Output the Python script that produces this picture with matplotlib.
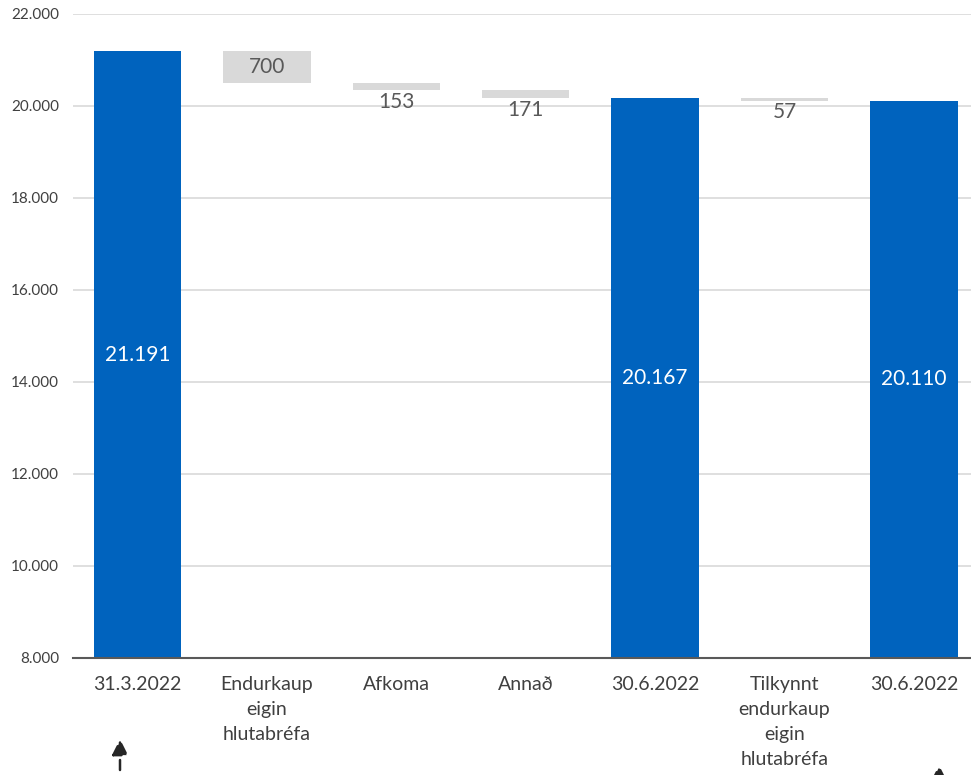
import numpy as np
import matplotlib
matplotlib.use("Agg")
import matplotlib.pyplot as plt
from matplotlib.ticker import FuncFormatter

# Data
categories = ["31.3.2022", "Endurkaup\neigin\nhlutabréfa", "Afkoma", "Annað",
              "30.6.2022", "Tilkynnt\nendurkaup\neigin\nhlutabréfa", "30.6.2022"]
values = [21191, -700, -153, -171, 20167, -57, 20110]
kinds = ["total", "delta", "delta", "delta", "total", "delta", "total"]

BLUE = "#0063BE"
GREY = "#D9D9D9"
TEXT = "#404040"
BASE = 8000

plt.rcParams["font.family"] = ["Lato", "DejaVu Sans"]


def fmt(v):
    return f"{int(abs(v)):,}".replace(",", ".")


# waterfall bottoms / heights
bottoms, heights, colors = [], [], []
running = 0
for v, k in zip(values, kinds):
    if k == "total":
        bottoms.append(BASE)
        heights.append(v - BASE)
        colors.append(BLUE)
        running = v
    else:
        new = running + v
        bottoms.append(min(running, new))
        heights.append(abs(v))
        colors.append(GREY)
        running = new

fig = plt.figure(figsize=(9.71, 7.75), dpi=100)
# axes runs a little past the right edge, like the cropped original
ax = fig.add_axes([0.075, 0.151, 0.9328, 0.831])

x = np.arange(len(categories))
ax.bar(x, heights, bottom=bottoms, width=0.675, color=colors, zorder=2)

for xi, b, h, v, k in zip(x, bottoms, heights, values, kinds):
    if k == "total":
        ax.text(xi, b + h / 2, fmt(v), ha="center", va="center",
                color="white", fontsize=15, zorder=3)
    elif h > 400:
        ax.text(xi, b + h / 2, fmt(v), ha="center", va="center",
                color="#595959", fontsize=15, zorder=3)
    else:
        ax.annotate(fmt(v), (xi, b), xytext=(0, -1), textcoords="offset points",
                    ha="center", va="top", color="#595959", fontsize=15, zorder=3)

ax.set_ylim(8000, 22000)
ax.set_xlim(-0.5, len(categories) - 0.5)
ax.set_yticks(np.arange(8000, 22001, 2000))
ax.yaxis.set_major_formatter(FuncFormatter(lambda v, p: fmt(v)))
ax.grid(axis="y", color=GREY, linewidth=1.2, zorder=0)
ax.set_axisbelow(True)

ax.set_xticks(x)
ax.set_xticklabels(categories, fontsize=14, color=TEXT, linespacing=1.58)
ax.tick_params(axis="x", length=0, pad=13)
ax.tick_params(axis="y", length=0, pad=10, labelsize=11, colors=TEXT)

for s in ["top", "right", "left"]:
    ax.spines[s].set_visible(False)
ax.spines["bottom"].set_color("#595959")
ax.spines["bottom"].set_linewidth(1.5)

# arrows below the chart (cut off at the bottom edge)
ap = dict(arrowstyle="-|>", linestyle=(0, (4, 3)), color="#262626", lw=1.8,
          mutation_scale=24, shrinkA=0, shrinkB=0)
ax.annotate("", xy=(120, 36), xycoords="figure pixels",
            xytext=(120, -30), textcoords="figure pixels",
            arrowprops=ap, annotation_clip=False)
ax.annotate("", xy=(939, 10), xycoords="figure pixels",
            xytext=(939, -40), textcoords="figure pixels",
            arrowprops=ap, annotation_clip=False)

fig.savefig("out.png", dpi=100)
